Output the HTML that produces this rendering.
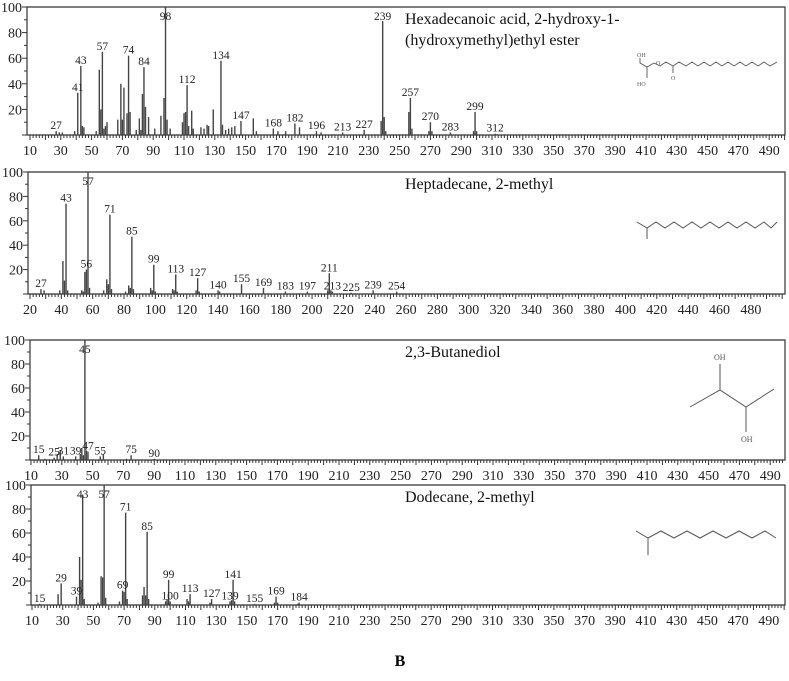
<!DOCTYPE html>
<html><head><meta charset="utf-8"><style>
body{margin:0;background:#fff;width:789px;height:681px;overflow:hidden}
svg{display:block;font-family:"Liberation Serif",serif}
text{font-family:"Liberation Serif",serif}
</style></head><body>
<svg id="fig" width="789" height="681" viewBox="0 0 789 681">
<text x="400" y="666" font-size="16" font-weight="bold" text-anchor="middle">B</text>
<g fill="none" stroke="#555" stroke-width="0.9">
<polyline points="640,58 640,63 647,67 647,78"/>
<polyline points="647,67 654,63 660,66 666,62 673,66 673,73 673,66 679,62 686,66 692,62 698,66 704,62 710,66 716,62 722,66 728,62 734,66 740,62 746,66 752,62 758,66 764,62 770,66 777,62"/>
<text x="637" y="57" font-size="6" fill="#555" stroke="none">OH</text><text x="637" y="86" font-size="6" fill="#555" stroke="none">HO</text>
<text x="656" y="65" font-size="6" fill="#555" stroke="none">O</text><text x="671" y="80" font-size="6" fill="#555" stroke="none">O</text>
</g>
<g fill="none" stroke="#555" stroke-width="1">
<polyline points="637,222 647,228 656,222 665,228 674,222 683,228 692,222 701,228 710,222 719,228 728,222 737,228 746,222 755,228 764,222 771,228 777,222"/>
<line x1="647" y1="228" x2="647" y2="239"/>
</g>
<g fill="none" stroke="#555" stroke-width="1">
<polyline points="690,407 720,390 746,407 774,389"/>
<line x1="720" y1="390" x2="720" y2="364"/><line x1="746" y1="407" x2="746" y2="432"/>
<text x="714" y="360" font-size="8" fill="#555" stroke="none">OH</text><text x="741" y="442" font-size="8" fill="#555" stroke="none">OH</text>
</g>
<g fill="none" stroke="#555" stroke-width="1">
<polyline points="636,531 648,538 661,531 674,538 687,531 700,538 713,531 726,538 739,531 752,538 765,531 776,538"/>
<line x1="648" y1="538" x2="648" y2="555"/>
</g>
</svg>
<script>
const mz1=[27,29,31,39,41,43,44,45,53,55,56,57,58,59,60,67,69,70,71,73,74,75,79,81,82,83,84,85,87,91,95,97,98,99,101,109,110,111,112,113,115,116,121,123,125,126,129,134,135,137,139,141,143,147,155,157,168,171,176,182,185,196,199,213,227,238,239,240,241,256,257,258,269,270,271,283,298,299,300,312];
const in1=[3,2,2,3,33,54,7,6,3,51,20,65,5,7,10,12,40,12,37,17,62,18,4,13,4,32,53,22,14,5,15,29,100,12,5,10,17,18,39,7,19,5,6,5,8,7,20,58,8,4,5,6,7,11,13,3,5,3,3,9,6,3,2,2,4,11,89,14,3,18,29,5,3,10,3,2,3,18,3,1];
const lab1=[27,41,43,57,74,84,98,112,134,147,168,182,196,213,227,239,257,270,283,299,312];
const mz2=[27,29,39,41,42,43,44,53,54,55,56,57,58,67,69,70,71,72,81,83,84,85,86,97,98,99,100,111,112,113,114,126,127,128,140,141,155,169,183,197,210,211,212,213,225,239,254];
const in2=[4,3,3,27,11,74,3,3,2,18,20,100,5,3,12,8,65,4,2,7,5,47,4,5,3,24,2,4,3,16,2,3,13,2,3,2,8,5,2,2,3,17,3,2,1,3,2];
const lab2=[27,43,56,57,71,85,99,113,127,140,155,169,183,197,211,213,225,239,254];
const mz3=[15,19,25,27,29,31,39,42,43,44,45,46,47,55,57,72,75,90];
const in3=[4,1,2,5,8,3,3,5,10,4,100,8,7,3,5,1,4,1];
const lab3=[15,25,31,39,45,47,55,75,90];
const mz4=[15,27,29,39,41,42,43,44,53,55,56,57,58,67,69,70,71,72,82,83,84,85,86,97,98,99,100,111,112,113,126,127,139,140,141,142,155,168,169,170,183,184];
const in4=[1,9,18,7,40,21,92,5,2,24,23,100,6,3,12,11,77,5,8,15,8,61,5,3,5,21,3,5,3,9,2,5,3,4,21,3,1,2,7,2,1,2];
const lab4=[15,29,39,43,57,69,71,85,99,100,113,127,139,141,155,169,184];
const titles1=["Hexadecanoic acid, 2-hydroxy-1-","(hydroxymethyl)ethyl ester"];
const titles2=["Heptadecane, 2-methyl"];
const titles3=["2,3-Butanediol"];
const titles4=["Dodecane, 2-methyl"];
const NS="http://www.w3.org/2000/svg";
const svg=document.getElementById('fig');
function mk(tag,at,parent){const e=document.createElementNS(NS,tag);for(const k in at)e.setAttribute(k,at[k]);(parent||svg).appendChild(e);return e;}
function panel(id,cfg,mz,inten,labs,titles){
 const g=mk('g',{});
 
 
 const x=v=>cfg.x0+(v-cfg.v0)*cfg.k;
 const y=v=>cfg.base-(v/100)*(cfg.base-cfg.top);
 const frame=mk('path',{d:`M${cfg.ax},${cfg.top} H785 V${cfg.base} H${cfg.ax} Z`,fill:'none',stroke:'#333','stroke-width':1.2},g);
 
 
 for(let v=0;v<=100;v+=10){
  const yy=y(v);const major=v%20===0;
  mk('line',{x1:cfg.ax-(major?5:3),x2:cfg.ax,y1:yy,y2:yy,stroke:'#333','stroke-width':1},g);
  if(major&&v>0){const t=mk('text',{x:cfg.ax-5,y:yy+5,'font-size':14,'text-anchor':'end',fill:'#222'},g);t.textContent=v;
   
   }
 }
 for(let v=cfg.tStart;x(v)<=785;v+=2){
  const xx=x(v);if(xx<cfg.ax)continue;const major=(v-cfg.lStart)%10===0;
  mk('line',{x1:xx,x2:xx,y1:cfg.base,y2:cfg.base+(major?5:3),stroke:'#333','stroke-width':1},g);
 }
 for(let v=cfg.lStart;v<=cfg.lEnd;v+=cfg.lStep){
  const t=mk('text',{x:x(v),y:cfg.base+20,'font-size':14,'text-anchor':'middle',fill:'#222'},g);t.textContent=v;
  
  
 }
 mz.forEach((m,i)=>{
  const b=mk('line',{x1:x(m),x2:x(m),y1:cfg.base,y2:y(inten[i]),stroke:'#444','stroke-width':1.4},g);
  
  
 });
 labs.forEach(m=>{
  const i=mz.indexOf(m);const ly=Math.max(y(inten[i])-2,cfg.top+13);
  const t=mk('text',{x:x(m),y:ly,'font-size':11.5,'text-anchor':'middle',fill:'#222'},g);t.textContent=m;
  
  
 });
 titles.forEach((s,j)=>{const t=mk('text',{x:405,y:cfg.top+17+j*21,'font-size':16,fill:'#111'},g);t.textContent=s;
  
  });
}
panel('spectrum-hexadecanoic',{x0:30,v0:10,k:1.54,ax:27,top:7,base:135,tStart:10,lStart:10,lEnd:490,lStep:20},mz1,in1,lab1,titles1);
panel('spectrum-heptadecane',{x0:30,v0:20,k:1.567,ax:28,top:172,base:294,tStart:20,lStart:20,lEnd:480,lStep:20},mz2,in2,lab2,titles2);
panel('spectrum-butanediol',{x0:31,v0:10,k:1.54,ax:30,top:340,base:460,tStart:10,lStart:10,lEnd:490,lStep:20},mz3,in3,lab3,titles3);
panel('spectrum-dodecane',{x0:32,v0:10,k:1.535,ax:31,top:485,base:605,tStart:10,lStart:10,lEnd:490,lStep:20},mz4,in4,lab4,titles4);
</script>
</body></html>
